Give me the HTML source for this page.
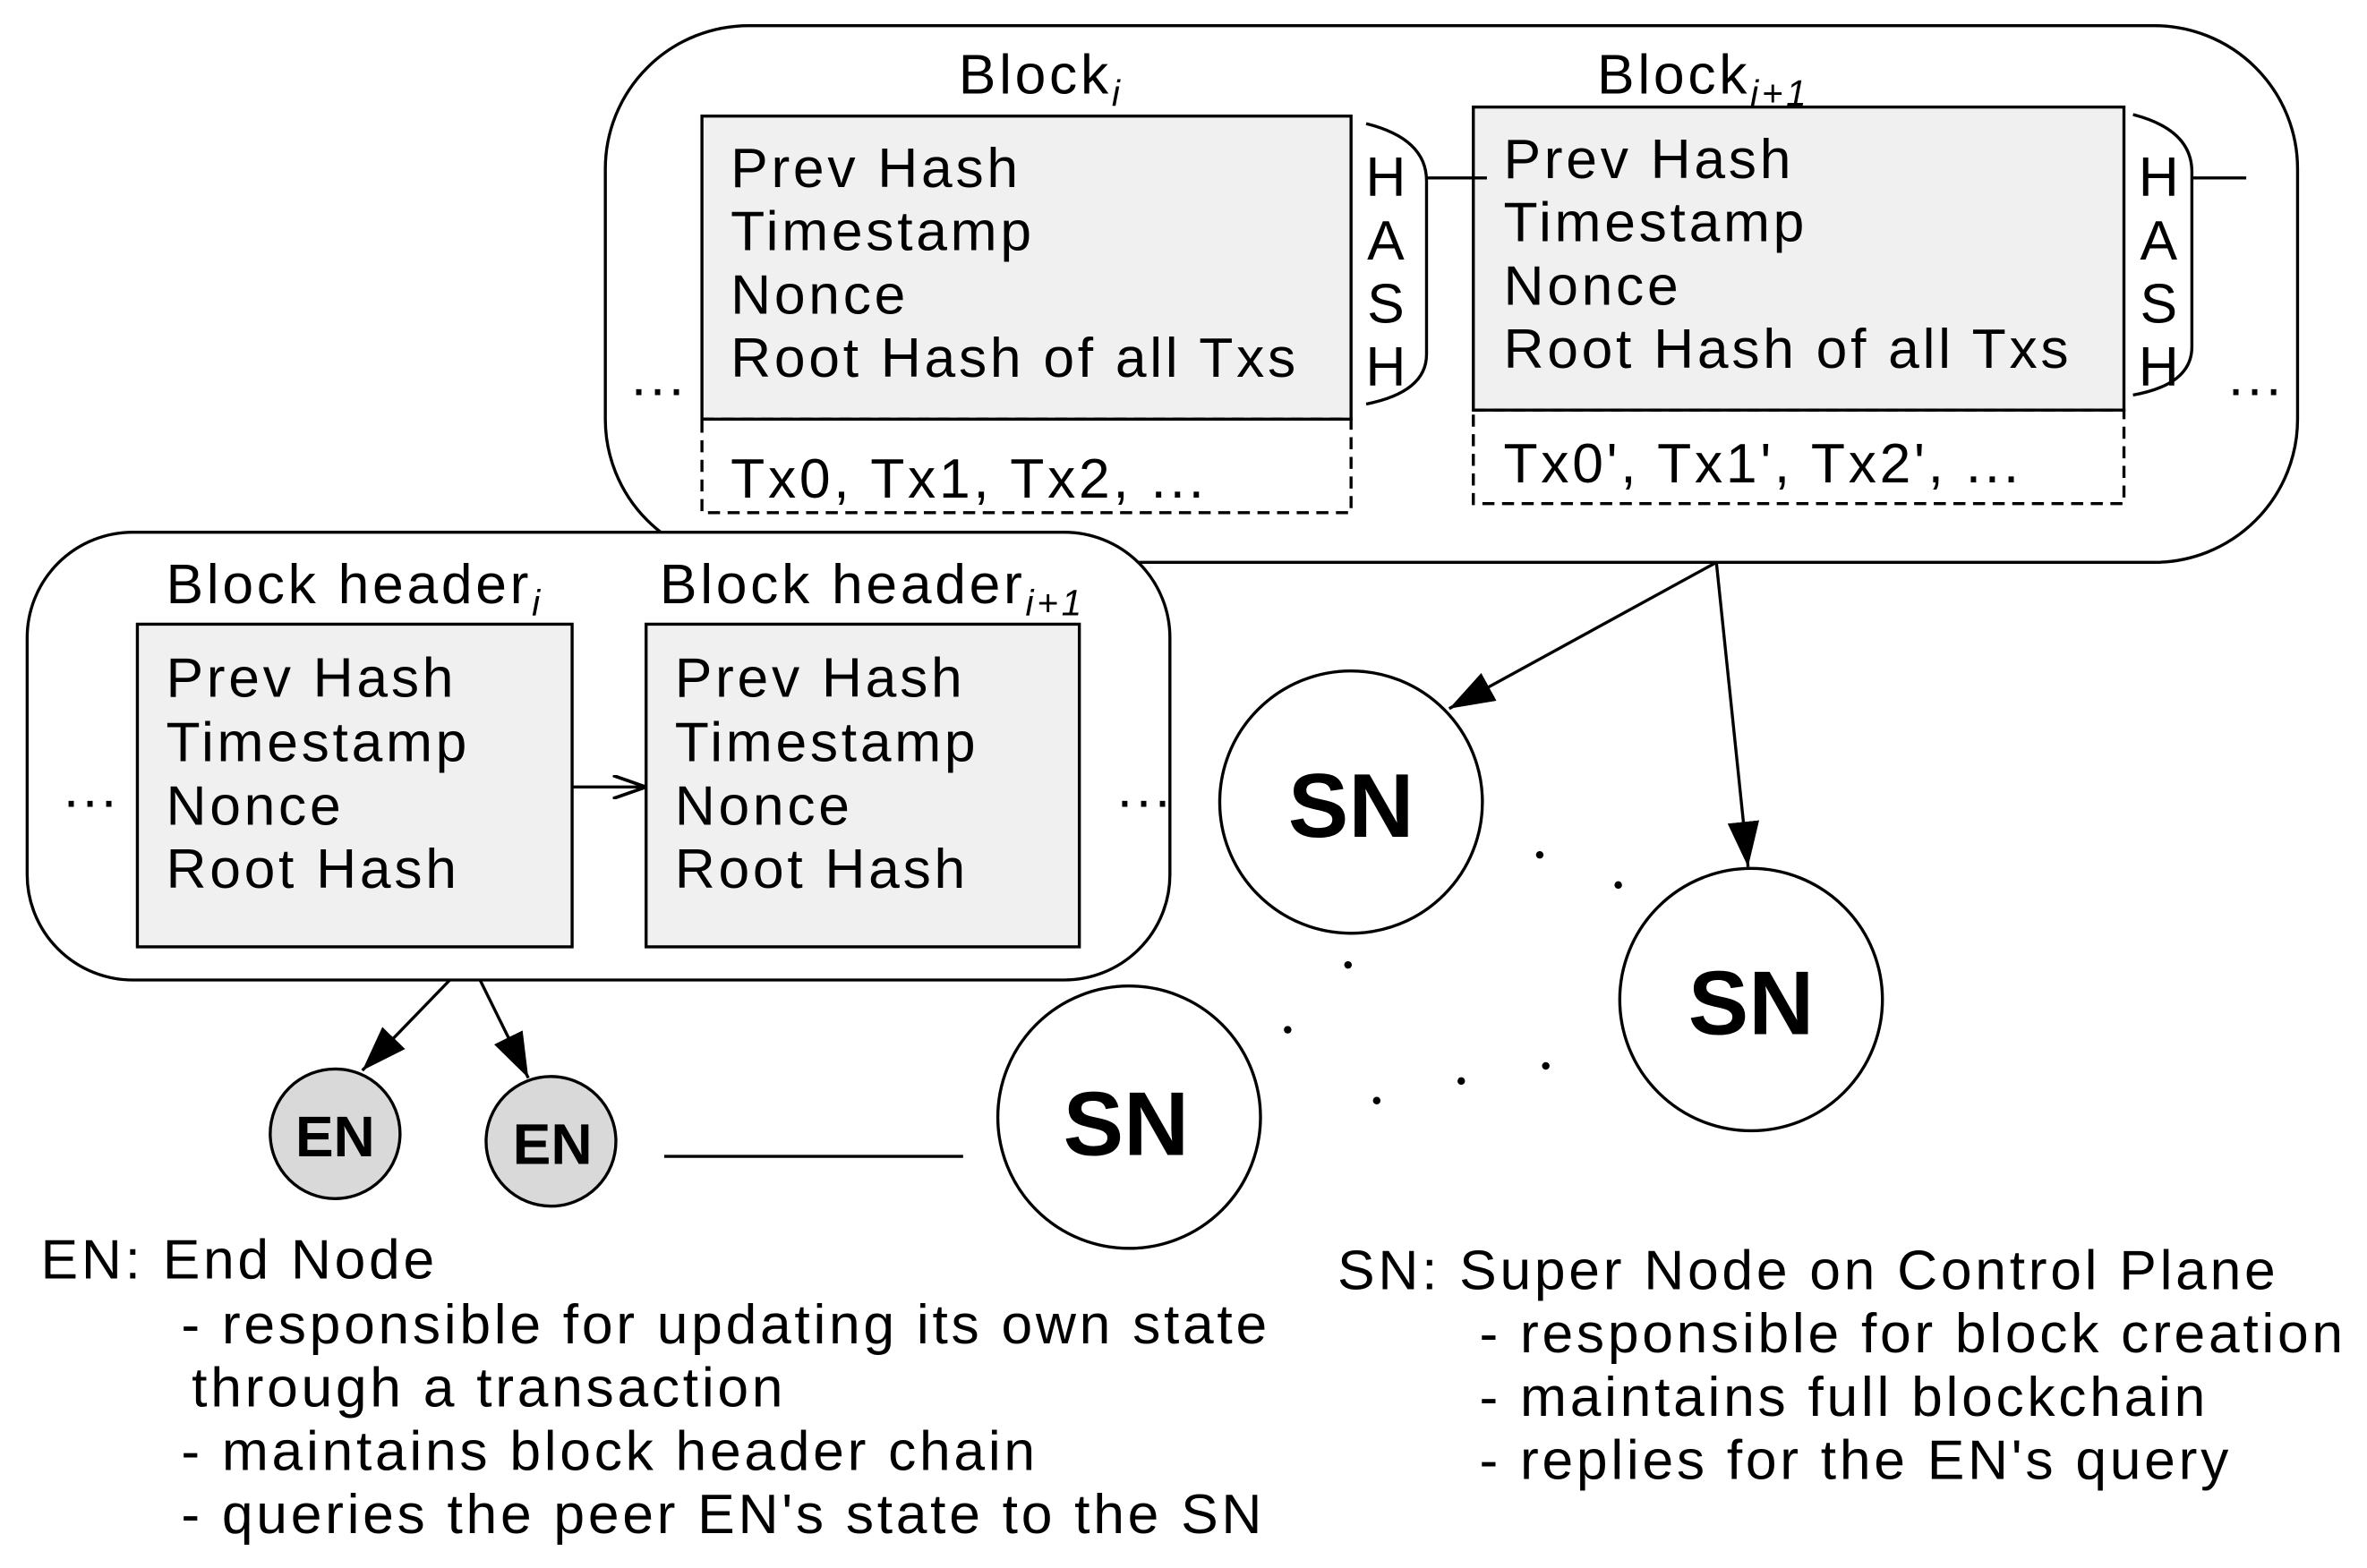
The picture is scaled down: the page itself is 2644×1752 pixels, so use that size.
<!DOCTYPE html>
<html><head><meta charset="utf-8"><style>
html,body{margin:0;padding:0;background:#fff;}
svg{display:block;}
text{font-family:"Liberation Sans",Arial,sans-serif;fill:#000;}
</style></head><body>
<svg width="2644" height="1752" viewBox="0 0 1568 1040" preserveAspectRatio="none" xmlns="http://www.w3.org/2000/svg">
<defs>
<marker id="a" viewBox="0 0 20 14" refX="20" refY="7" markerWidth="30" markerHeight="21" markerUnits="userSpaceOnUse" orient="auto"><path d="M0,0 L20,7 L0,14 z" fill="#000"/></marker>
<marker id="o" viewBox="0 0 20 14" refX="20" refY="7" markerWidth="22" markerHeight="16" markerUnits="userSpaceOnUse" orient="auto"><path d="M0,0 L20,7 L0,14" fill="none" stroke="#000" stroke-width="2"/></marker>
</defs>
<g stroke="#000" stroke-width="2" fill="none">
<rect x="401" y="17" width="1121" height="356" rx="95" fill="#fff"/>
<rect x="18" y="353" width="757" height="297" rx="70" fill="#fff"/>
<rect x="465" y="77" width="430" height="201" fill="#f0f0f0"/>
<rect x="465" y="278" width="430" height="62" stroke-dasharray="8,5"/>
<rect x="976" y="71" width="431" height="201" fill="#f0f0f0"/>
<rect x="976" y="272" width="431" height="62" stroke-dasharray="8,5"/>
<path d="M905,82 Q945,92 945,120 L945,235 Q945,260 905,268"/>
<path d="M1413,76 Q1452,86 1452,114 L1452,230 Q1452,255 1413,262"/>
<line x1="945" y1="118" x2="985" y2="118"/>
<line x1="1452" y1="118" x2="1488" y2="118"/>
<rect x="91" y="414" width="288" height="214" fill="#f0f0f0"/>
<rect x="428" y="414" width="287" height="214" fill="#f0f0f0"/>
<line x1="379" y1="522" x2="428" y2="522" marker-end="url(#o)"/>
<line x1="1137" y1="373" x2="960" y2="470" marker-end="url(#a)"/>
<line x1="1137" y1="373" x2="1158" y2="575" marker-end="url(#a)"/>
<line x1="298" y1="650" x2="240" y2="710" marker-end="url(#a)"/>
<line x1="318" y1="650" x2="350" y2="715" marker-end="url(#a)"/>
<line x1="440" y1="767" x2="638" y2="767"/>
<circle cx="895" cy="532" r="87" fill="#fff"/>
<circle cx="1160" cy="663" r="87" fill="#fff"/>
<circle cx="748" cy="741" r="87" fill="#fff"/>
<circle cx="222" cy="752" r="43" fill="#d9d9d9"/>
<circle cx="365" cy="757" r="43" fill="#d9d9d9"/>
</g>
<g fill="#000">
<circle cx="1020" cy="567" r="2.5"/><circle cx="1072" cy="587" r="2.5"/><circle cx="893" cy="640" r="2.5"/>
<circle cx="853" cy="683" r="2.5"/><circle cx="912" cy="730" r="2.5"/><circle cx="968" cy="717" r="2.5"/><circle cx="1024" cy="707" r="2.5"/>
</g>
<g font-size="37" letter-spacing="2.2">
<text x="635" y="62">Block<tspan font-size="24" font-style="italic" dy="8">i</tspan></text>
<text x="1058" y="62">Block<tspan font-size="24" font-style="italic" dy="8">i+1</tspan></text>
<text x="484" y="124">Prev Hash</text><text x="484" y="166">Timestamp</text><text x="484" y="208">Nonce</text><text x="484" y="250">Root Hash of all Txs</text>
<text x="484" y="330">Tx0, Tx1, Tx2, ...</text>
<text x="996" y="118">Prev Hash</text><text x="996" y="160">Timestamp</text><text x="996" y="202">Nonce</text><text x="996" y="244">Root Hash of all Txs</text>
<text x="996" y="320">Tx0', Tx1', Tx2', ...</text>
<g text-anchor="middle" letter-spacing="0"><text x="918" y="130">H</text><text x="918" y="172">A</text><text x="918" y="214">S</text><text x="918" y="256">H</text>
<text x="1430" y="130">H</text><text x="1430" y="172">A</text><text x="1430" y="214">S</text><text x="1430" y="256">H</text></g>
<text x="418" y="262">...</text><text x="1476" y="262">...</text>
<text x="110" y="400">Block header<tspan font-size="24" font-style="italic" dy="8">i</tspan></text>
<text x="437" y="400">Block header<tspan font-size="24" font-style="italic" dy="8">i+1</tspan></text>
<text x="110" y="462">Prev Hash</text><text x="110" y="505">Timestamp</text><text x="110" y="547">Nonce</text><text x="110" y="589">Root Hash</text>
<text x="447" y="462">Prev Hash</text><text x="447" y="505">Timestamp</text><text x="447" y="547">Nonce</text><text x="447" y="589">Root Hash</text>
<text x="42" y="535">...</text><text x="740" y="535">...</text>
<text x="27" y="848">EN: End Node</text>
<text x="120" y="891">- responsible for updating its own state</text>
<text x="127" y="933">through a transaction</text>
<text x="120" y="975">- maintains block header chain</text>
<text x="120" y="1017">- queries the peer EN's state to the SN</text>
<text x="886" y="855">SN: Super Node on Control Plane</text>
<text x="980" y="897">- responsible for block creation</text>
<text x="980" y="939">- maintains full blockchain</text>
<text x="980" y="981">- replies for the EN's query</text>
</g>
<g font-weight="bold" text-anchor="middle">
<text x="895" y="555" font-size="60">SN</text>
<text x="1160" y="686" font-size="60">SN</text>
<text x="746" y="766" font-size="60">SN</text>
<text x="222" y="767" font-size="38">EN</text>
<text x="366" y="772" font-size="38">EN</text>
</g>
</svg>
</body></html>
